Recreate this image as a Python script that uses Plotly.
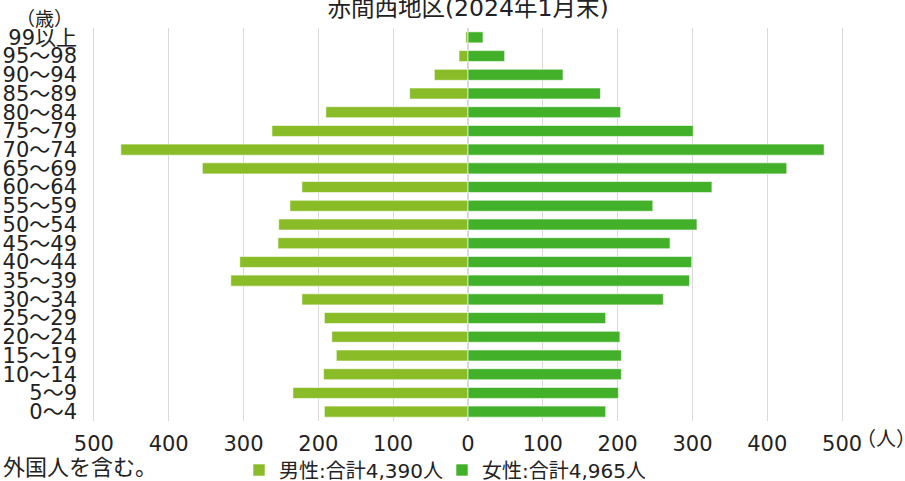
import plotly.graph_objects as go

# Data (bottom to top)
ages = ["0～4", "5～9", "10～14", "15～19", "20～24", "25～29", "30～34", "35～39",
        "40～44", "45～49", "50～54", "55～59", "60～64", "65～69", "70～74", "75～79",
        "80～84", "85～89", "90～94", "95～98", "99以上"]
male = [192, 234, 193, 176, 182, 192, 222, 317, 305, 254, 253, 238, 222, 355, 464,
        262, 190, 78, 45, 12, 3]
female = [184, 201, 205, 205, 203, 184, 261, 296, 299, 270, 306, 247, 326, 426, 476,
          301, 204, 177, 127, 49, 20]
male_name = "男性:合計4,390人"
female_name = "女性:合計4,965人"
title_text = "赤間西地区(2024年1月末)"
tick_vals = [-500, -400, -300, -200, -100, 0, 100, 200, 300, 400, 500]
tick_text = ["500", "400", "300", "200", "100", "0", "100", "200", "300", "400", "500"]

FONT = "DejaVu Sans, Noto Sans CJK JP"
W, H = 905, 481
L, R, T, B = 92, 61, 28, 60
PW, PH = W - L - R, H - T - B
INK = "#222222"


def px(x):
    return (x - L) / PW


def py(y):
    return (H - B - y) / PH


fig = go.Figure()
fig.add_trace(go.Bar(
    y=ages, x=[-v for v in male], orientation="h", name=male_name,
    marker=dict(color="#89bc26", line=dict(color="rgba(255,255,255,0.6)", width=1)),
    customdata=male, hovertemplate="%{y}: %{customdata}人<extra>男性</extra>",
))
fig.add_trace(go.Bar(
    y=ages, x=female, orientation="h", name=female_name,
    marker=dict(color="#43b02a", line=dict(color="rgba(255,255,255,0.6)", width=1)),
    hovertemplate="%{y}: %{x}人<extra>女性</extra>",
))

fig.update_layout(
    width=W, height=H,
    margin=dict(l=L, r=R, t=T, b=B, pad=0, autoexpand=False),
    paper_bgcolor="white", plot_bgcolor="white",
    barmode="overlay", bargap=0.41,
    font=dict(family=FONT, size=21, color=INK),
    title=dict(text=title_text, x=0.5, xref="paper", y=1 - 7.5 / H, yref="container",
               xanchor="center", yanchor="middle", font=dict(size=23.5, color=INK)),
    showlegend=True,
    legend=dict(orientation="h", x=px(239), y=py(470), xanchor="left", yanchor="middle",
                font=dict(size=20, color=INK), bgcolor="rgba(0,0,0,0)",
                traceorder="normal", entrywidth=158, entrywidthmode="pixels"),
    xaxis=dict(range=[-502.5, 502.5], tickmode="array", tickvals=tick_vals,
               ticktext=tick_text, automargin=False,
               showgrid=True, gridcolor="#d9d9d9", gridwidth=1,
               zeroline=True, zerolinecolor="#d9d9d9", zerolinewidth=2,
               showline=False, ticks="", ticklabelstandoff=8,
               tickfont=dict(size=21, color=INK), fixedrange=True),
    yaxis=dict(type="category", categoryorder="array", categoryarray=ages,
               tickmode="array", tickvals=ages, ticktext=ages, automargin=False,
               showgrid=False, zeroline=False, showline=False, ticks="",
               ticklabelstandoff=14, tickfont=dict(size=21, color=INK),
               fixedrange=True),
    annotations=[
        dict(text="（歳）", x=px(44), y=py(19), xref="paper", yref="paper",
             xanchor="center", yanchor="middle", showarrow=False,
             font=dict(size=19, color=INK)),
        dict(text="（人）", x=px(886), y=py(439), xref="paper", yref="paper",
             xanchor="center", yanchor="middle", showarrow=False,
             font=dict(size=20, color=INK)),
        dict(text="外国人を含む。", x=px(1), y=py(467), xref="paper", yref="paper",
             xanchor="left", yanchor="middle", showarrow=False,
             font=dict(size=22, color=INK)),
    ],
)

fig.write_html("out.html", config={"displayModeBar": False},
               post_script="document.body.style.margin='0';document.body.style.overflow='hidden';")
